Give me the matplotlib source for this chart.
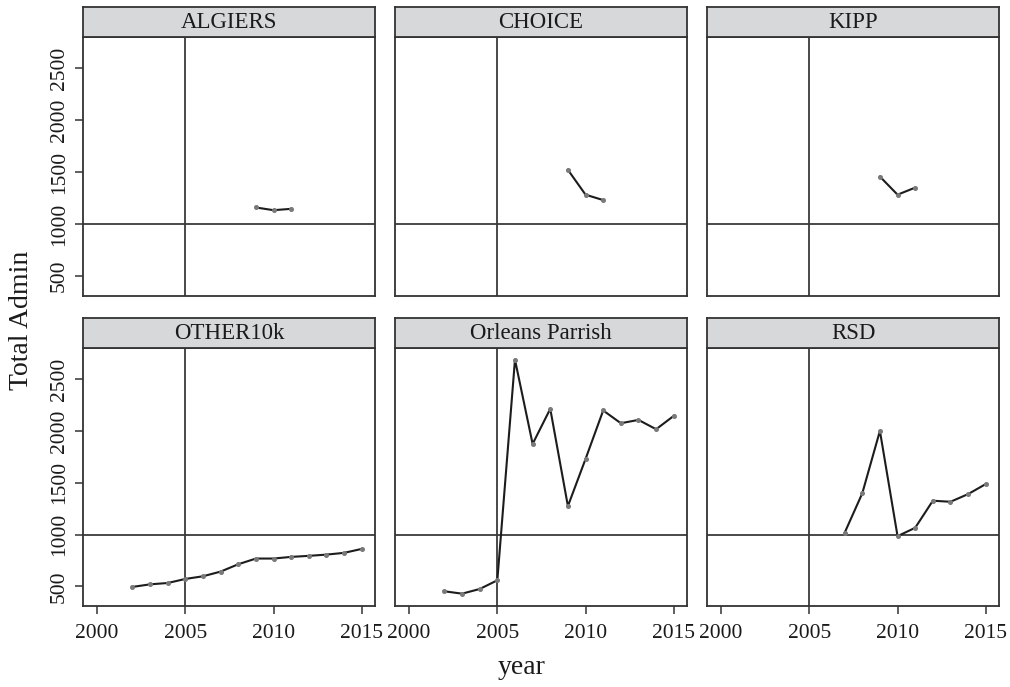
import numpy as np
import matplotlib
matplotlib.use("Agg")
import matplotlib.pyplot as plt

plt.rcParams['font.family'] = ['Liberation Serif', 'DejaVu Serif']

# panel names in reading order
panels = ["ALGIERS", "CHOICE", "KIPP", "OTHER10k", "Orleans Parrish", "RSD"]

algiers_years = [2009, 2010, 2011]
algiers_admin = [1161, 1135, 1148]

choice_years = [2009, 2010, 2011]
choice_admin = [1523, 1284, 1232]

kipp_years = [2009, 2010, 2011]
kipp_admin = [1458, 1284, 1352]

other_years = list(range(2002, 2016))
other_admin = [494, 519, 532, 571, 597, 642, 713, 768, 768, 784, 794, 806, 823, 861]

orleans_years = list(range(2002, 2016))
orleans_admin = [452, 429, 474, 558, 2687, 1874, 2213, 1274, 1729, 2197, 2074, 2106, 2016, 2145]

rsd_years = list(range(2007, 2016))
rsd_admin = [1016, 1397, 2000, 984, 1065, 1326, 1316, 1390, 1487]

series = [
    (algiers_years, algiers_admin),
    (choice_years, choice_admin),
    (kipp_years, kipp_admin),
    (other_years, other_admin),
    (orleans_years, orleans_admin),
    (rsd_years, rsd_admin),
]

x_ticks = [2000, 2005, 2010, 2015]
y_ticks = [500, 1000, 1500, 2000, 2500]

W, H = 1010, 687
fig = plt.figure(figsize=(W / 100, H / 100), dpi=100)

col_left = [83, 395, 707]
col_width = 292
row_top = [37, 348]   # top of plot area (pixels)
row_height = [259, 258]
strip_h = 30

frame_col = "#333333"

for i, name in enumerate(panels):
    r, c = divmod(i, 3)
    x0 = col_left[c]
    y_top = row_top[r]
    h = row_height[r]
    ax = fig.add_axes([x0 / W, 1 - (y_top + h) / H, col_width / W, h / H])
    sax = fig.add_axes([x0 / W, 1 - y_top / H, col_width / W, strip_h / H])

    # strip header
    sax.set_facecolor("#d6d8da")
    sax.set_xticks([])
    sax.set_yticks([])
    for s in sax.spines.values():
        s.set_color(frame_col)
        s.set_linewidth(1.3)
    sax.text(0.5, 0.47, name, ha="center", va="center", fontsize=16.5,
             color="#1a1a1a", transform=sax.transAxes)

    # reference lines
    ax.axvline(2005, color="#3a3a3a", lw=1.3, zorder=1)
    ax.axhline(1000, color="#3a3a3a", lw=1.3, zorder=1)

    yrs, vals = series[i]
    ax.plot(yrs, vals, color="#1c1c1c", lw=1.5, zorder=2)
    ax.plot(yrs, vals, 'o', color="#7a7a7a", ms=2.6, zorder=3)

    ax.set_xlim(1999.2, 2015.75)
    ax.set_ylim(310, 2800)
    ax.set_xticks(x_ticks)
    ax.set_yticks(y_ticks)
    for s in ax.spines.values():
        s.set_color(frame_col)
        s.set_linewidth(1.3)
    ax.tick_params(direction="out", length=6, width=1.1, color=frame_col,
                   labelsize=15.5, labelcolor="#1a1a1a")

    if r == 1:
        ax.tick_params(axis="x", pad=7)
    else:
        ax.tick_params(axis="x", bottom=False, labelbottom=False)
    if c == 0:
        ax.set_yticklabels([str(v) for v in y_ticks], rotation=90, va="center")
        ax.tick_params(axis="y", pad=4)
    else:
        ax.tick_params(axis="y", left=False, labelleft=False)

fig.text(522 / W, 1 - 667 / H, "year", ha="center", va="center",
         fontsize=20, color="#1a1a1a")
fig.text(22 / W, 1 - 320 / H, "Total Admin", ha="center", va="center",
         rotation=90, fontsize=20, color="#1a1a1a")

fig.savefig("out.png", dpi=100)
